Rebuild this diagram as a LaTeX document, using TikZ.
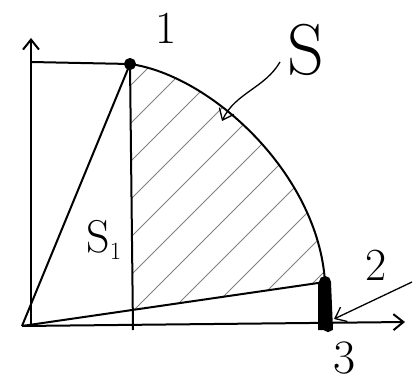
\documentclass[tikz,border=0pt]{standalone}
\usetikzlibrary{arrows.meta}
\tikzset{
    dot/.style={circle, fill=black, draw=black, inner sep=0pt, minimum size=10pt},
    hatch/.style={line width=0.8pt, gray},
    lbl/.style={font=\fontsize{46}{46}\selectfont},
}
\begin{document}
\begin{tikzpicture}[x=1pt, y=1pt, >={Straight Barb[length=10pt, width=16pt]}, line width=2pt]
    \useasboundingbox (0,0) rectangle (414,383);
    % Points
    \coordinate (O) at (22,57);
    \coordinate (ytop) at (31,345);
    \coordinate (xend) at (405,61);
    \node[dot] (P1) at (130,319) {};
    \node[dot] (P2) at (325,101) {};
    \node[dot, minimum size=8pt] (P3) at (328,56) {};
    \coordinate (H) at (31,321);
    \coordinate (F1) at (133,53);

    % Hatched region
    \begin{scope}
        \clip (P1.center) .. controls (210,308) and (318,210) .. (P2.center)
            -- (133,73) -- cycle;
        \foreach \k in {-300,-262,...,200}
            \draw[hatch] (133+\k,0) -- (533+\k,400);
    \end{scope}

    % Axes
    \draw[->] (31,57) -- (ytop);
    \draw[->] (O) -- (xend);

    % Quarter curve and lines
    \draw (H) -- (P1.center);
    \draw (P1.center) .. controls (210,308) and (318,210) .. (P2.center);
    \draw (O) -- (P1.center);
    \draw (P1.center) -- (F1);
    \draw (O) -- (P2.center);

    % Thin strip
    \fill[black] (318,101) -- (331,101) -- (333,53) -- (318,53) -- cycle;

    % Labels
    \node[lbl] (L1) at (166,355) {1};
    \node[lbl, font=\fontsize{72}{72}\selectfont] (S) at (306,333) {S};
    \node[lbl] (S1) at (104,143) {S$_1$};
    \node[lbl] (L2) at (376,118) {2};
    \node[lbl, font=\fontsize{48}{48}\selectfont, inner sep=1pt] (L3) at (345,25) {3};

    % Pointers
    \coordinate (Sa) at (280,321);
    \coordinate (Sb) at (222,262);
    \draw[->, line width=1.3pt] (Sa) .. controls (265,295) and (235,290) .. (Sb);
    \coordinate (Ta) at (412,101);
    \coordinate (Tb) at (334,64);
    \draw[->, line width=1.3pt] (Ta) -- (Tb);
\end{tikzpicture}
\end{document}
